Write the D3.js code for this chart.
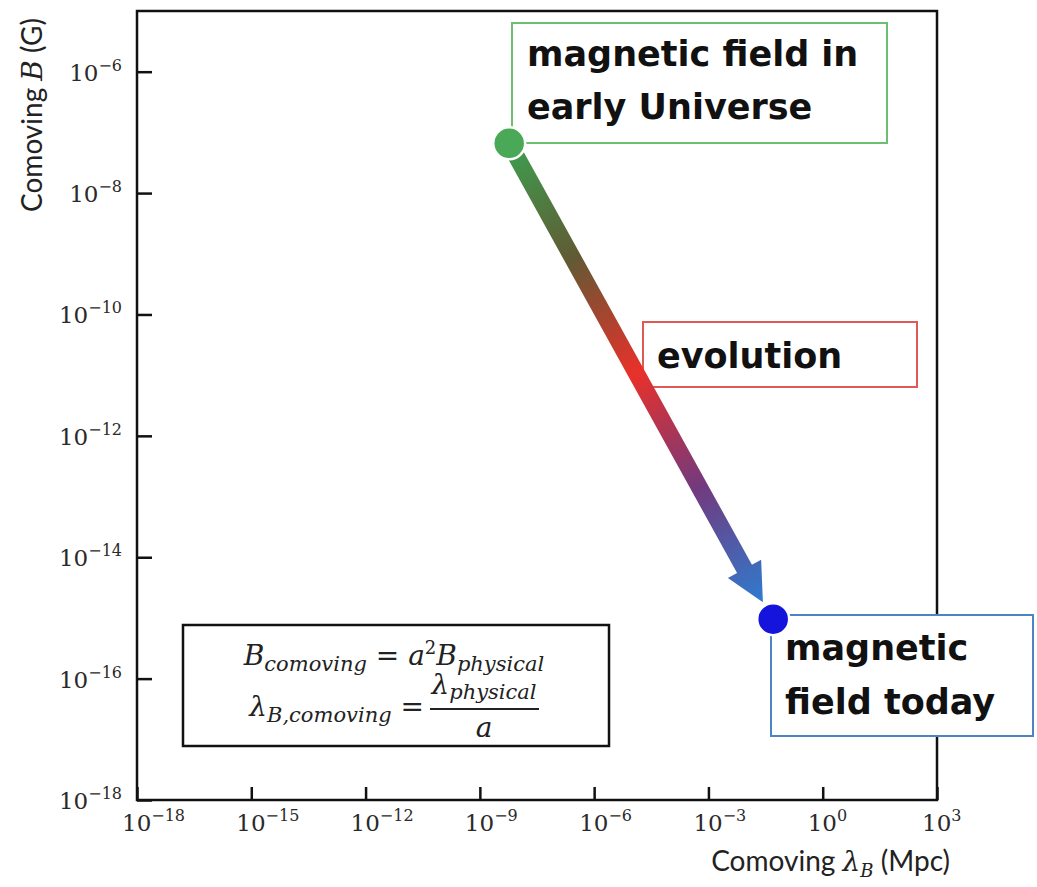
<!DOCTYPE html>
<html>
<head>
<meta charset="utf-8">
<script src="https://cdn.jsdelivr.net/npm/d3@7"></script>
<style>
  body { margin: 0; background: #fff; }
  svg { display: block; }
</style>
</head>
<body>
<svg width="1037" height="887"></svg>
<script>
// tick exponents (powers of ten)
const xTickExp = [-18, -15, -12, -9, -6, -3, 0, 3];
const yTickExp = [-18, -16, -14, -12, -10, -8, -6];

// the two states, log10 of comoving lambda_B (Mpc) and B (G)
const stateNames = ["early", "today"];
const stateLogLambda = [-8.23, -1.30];
const stateLogB = [-7.18, -15.02];
const stateColors = ["#4aa956", "#1414dc"];

// evolution arrow, start and tip
const arrowLogLambda = [-8.23, -1.57];
const arrowLogB = [-7.18, -14.74];
const gradOffsets = [0, 0.25, 0.5, 0.75, 1];
const gradColors = ["#3d9f4f", "#615a34", "#e8312a", "#723a7e", "#2f7bcf"];

// annotation boxes
const labelLines = [["magnetic field in", "early Universe"], ["evolution"], ["magnetic", "field today"]];
const labelColors = ["#6cbe72", "#e05a55", "#4c84c4"];

let svg = d3.select("svg"),
    width = +svg.attr("width"),
    height = +svg.attr("height");

let plotLeft = 137, plotRight = 937, plotTop = 11, plotBottom = 800;

let x = d3.scaleLog().domain([1e-18, 1e3]).range([plotLeft, plotRight]);
let y = d3.scaleLog().domain([1e-18, 1e-5]).range([plotBottom, plotTop]);

const tickFont = "'DejaVu Serif', serif";
const mathFont = "'DejaVu Serif', serif";
const labelFont = "Lato, 'Open Sans', sans-serif";
const boxFont = "'DejaVu Sans', sans-serif";

svg.append("rect").attr("width", width).attr("height", height).attr("fill", "#fff");

// ticks (inward)
let gx = svg.append("g")
    .attr("transform", "translate(0," + plotBottom + ")")
    .call(d3.axisBottom(x)
        .tickValues(xTickExp.map(e => Math.pow(10, e)))
        .tickSize(-13)
        .tickFormat(""));
let gy = svg.append("g")
    .attr("transform", "translate(" + plotLeft + ",0)")
    .call(d3.axisLeft(y)
        .tickValues(yTickExp.map(e => Math.pow(10, e)))
        .tickSize(-15)
        .tickFormat(""));
[gx, gy].forEach(function (g) {
    g.select(".domain").remove();
    g.selectAll("line").attr("stroke", "#111").attr("stroke-width", 2.5);
});

// frame
svg.append("rect")
    .attr("x", plotLeft).attr("y", plotTop)
    .attr("width", plotRight - plotLeft).attr("height", plotBottom - plotTop)
    .attr("fill", "none").attr("stroke", "#111").attr("stroke-width", 2.5);

// x tick labels: "10" centred on tick, exponent hangs right
xTickExp.forEach(function (e) {
    let t = svg.append("text")
        .attr("x", x(Math.pow(10, e)) - 15)
        .attr("y", plotBottom + 31)
        .attr("font-family", tickFont)
        .attr("font-size", 23)
        .attr("fill", "#2a2a2a");
    t.append("tspan").text("10");
    t.append("tspan").attr("dy", -10).attr("font-size", 16)
        .text(e < 0 ? "\u2212" + (-e) : String(e));
});

// y tick labels
yTickExp.forEach(function (e) {
    let t = svg.append("text")
        .attr("x", 122)
        .attr("y", y(Math.pow(10, e)) + 9)
        .attr("text-anchor", "end")
        .attr("font-family", tickFont)
        .attr("font-size", 23)
        .attr("fill", "#2a2a2a");
    t.append("tspan").text("10");
    t.append("tspan").attr("dy", -10).attr("font-size", 16)
        .text("\u2212" + (-e));
});

// axis titles
let yt = svg.append("text")
    .attr("transform", "translate(42,115) rotate(-90)")
    .attr("text-anchor", "middle")
    .attr("font-family", labelFont)
    .attr("font-size", 28)
    .attr("fill", "#222");
yt.append("tspan").text("Comoving ");
yt.append("tspan").attr("font-family", mathFont).attr("font-style", "italic").text("B");
yt.append("tspan").text(" (G)");

let xt = svg.append("text")
    .attr("x", 950).attr("y", 871)
    .attr("text-anchor", "end")
    .attr("font-family", labelFont)
    .attr("font-size", 28)
    .attr("fill", "#222");
xt.append("tspan").text("Comoving ");
xt.append("tspan").attr("font-family", mathFont).attr("font-style", "italic").text("\u03bb");
xt.append("tspan").attr("font-family", mathFont).attr("font-style", "italic")
    .attr("font-size", 18).attr("dy", 6).text("B");
xt.append("tspan").attr("dy", -6).text(" (Mpc)");

// formula box
svg.append("rect")
    .attr("x", 183).attr("y", 625).attr("width", 426).attr("height", 121)
    .attr("fill", "#fff").attr("stroke", "#111").attr("stroke-width", 2.5);

let f1 = svg.append("text")
    .attr("x", 394).attr("y", 665)
    .attr("text-anchor", "middle")
    .attr("font-family", mathFont)
    .attr("font-size", 28)
    .attr("fill", "#222");
f1.append("tspan").attr("font-style", "italic").text("B");
f1.append("tspan").attr("font-style", "italic").attr("font-size", 21).attr("dy", 6).text("comoving");
f1.append("tspan").attr("dy", -6).text(" = ");
f1.append("tspan").attr("font-style", "italic").text("a");
f1.append("tspan").attr("font-size", 18).attr("dy", -11).text("2");
f1.append("tspan").attr("font-style", "italic").attr("dy", 11).text("B");
f1.append("tspan").attr("font-style", "italic").attr("font-size", 21).attr("dy", 6).text("physical");

let f2 = svg.append("text")
    .attr("x", 424).attr("y", 716)
    .attr("text-anchor", "end")
    .attr("font-family", mathFont)
    .attr("font-size", 28)
    .attr("fill", "#222");
f2.append("tspan").attr("font-style", "italic").text("\u03bb");
f2.append("tspan").attr("font-style", "italic").attr("font-size", 21).attr("dy", 6).text("B,comoving");
f2.append("tspan").attr("dy", -6).text(" =");

let fn = svg.append("text")
    .attr("x", 484).attr("y", 694)
    .attr("text-anchor", "middle")
    .attr("font-family", mathFont)
    .attr("font-size", 28)
    .attr("font-style", "italic")
    .attr("fill", "#222");
fn.append("tspan").text("\u03bb");
fn.append("tspan").attr("font-size", 21).attr("dy", 5).text("physical");
svg.append("line")
    .attr("x1", 430).attr("x2", 539).attr("y1", 709).attr("y2", 709)
    .attr("stroke", "#222").attr("stroke-width", 2);
svg.append("text")
    .attr("x", 484).attr("y", 737)
    .attr("text-anchor", "middle")
    .attr("font-family", mathFont)
    .attr("font-size", 28)
    .attr("font-style", "italic")
    .attr("fill", "#222")
    .text("a");

// annotation boxes
const boxes = [
    {x: 512, y: 23, w: 375, h: 120, tx: 527, ty: [66, 119]},
    {x: 643, y: 322, w: 274, h: 65, tx: 657, ty: [368]},
    {x: 771, y: 615, w: 262, h: 121, tx: 785, ty: [660, 714]}
];
boxes.forEach(function (b, i) {
    svg.append("rect")
        .attr("x", b.x).attr("y", b.y).attr("width", b.w).attr("height", b.h)
        .attr("fill", "#fff").attr("stroke", labelColors[i]).attr("stroke-width", 2);
    labelLines[i].forEach(function (line, j) {
        svg.append("text")
            .attr("x", b.tx).attr("y", b.ty[j])
            .attr("font-family", boxFont)
            .attr("font-weight", "bold")
            .attr("font-size", 35)
            .attr("fill", "#111")
            .text(line);
    });
});

// gradient arrow
let ax0 = x(Math.pow(10, arrowLogLambda[0])), ay0 = y(Math.pow(10, arrowLogB[0])),
    ax1 = x(Math.pow(10, arrowLogLambda[1])), ay1 = y(Math.pow(10, arrowLogB[1]));

let grad = svg.append("defs").append("linearGradient")
    .attr("id", "evo")
    .attr("gradientUnits", "userSpaceOnUse")
    .attr("x1", ax0).attr("y1", ay0).attr("x2", ax1).attr("y2", ay1);
grad.selectAll("stop")
    .data(gradOffsets)
    .enter().append("stop")
    .attr("offset", d => d)
    .attr("stop-color", (d, i) => gradColors[i]);

let len = Math.hypot(ax1 - ax0, ay1 - ay0),
    ux = (ax1 - ax0) / len, uy = (ay1 - ay0) / len,
    nx = -uy, ny = ux,
    shaftW = 8.5, headW = 19, headL = 38;
let bx = ax1 - ux * headL, by = ay1 - uy * headL;
let pts = [
    [ax0 + nx * shaftW, ay0 + ny * shaftW],
    [bx + nx * shaftW, by + ny * shaftW],
    [bx + nx * headW, by + ny * headW],
    [ax1, ay1],
    [bx - nx * headW, by - ny * headW],
    [bx - nx * shaftW, by - ny * shaftW],
    [ax0 - nx * shaftW, ay0 - ny * shaftW]
];
svg.append("path")
    .attr("d", d3.line()(pts) + "Z")
    .attr("fill", "url(#evo)");

// state dots
svg.selectAll(".state")
    .data(stateNames)
    .enter().append("circle")
    .attr("class", "state")
    .attr("cx", (d, i) => x(Math.pow(10, stateLogLambda[i])))
    .attr("cy", (d, i) => y(Math.pow(10, stateLogB[i])))
    .attr("r", 16)
    .attr("fill", (d, i) => stateColors[i])
    .attr("stroke", "#fff")
    .attr("stroke-width", 2.5);
</script>
</body>
</html>
